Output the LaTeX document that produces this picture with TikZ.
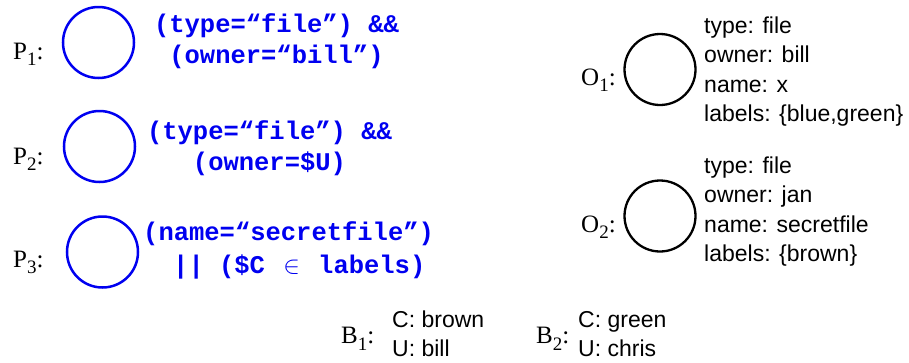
\documentclass[tikz,border=0pt]{standalone}
\usepackage{fontspec}
\setmainfont{Liberation Serif}
\newfontfamily\attrfont{Liberation Sans}
\newfontfamily\codefont{Liberation Mono}
\newcommand{\lblsub}[1]{\raisebox{-6.5pt}{\fontsize{19}{19}\selectfont #1}}
\begin{document}
\begin{tikzpicture}[x=1pt,y=-1pt,
  pcirc/.style={circle, draw={rgb,255:red,0;green,0;blue,240}, line width=2.5pt, minimum size=71pt, inner sep=0pt},
  ocirc/.style={circle, draw=black, line width=2.3pt, minimum size=71pt, inner sep=0pt},
  lbl/.style={font=\fontsize{25}{29}\selectfont, anchor=base west, inner sep=0pt},
  code/.style={text={rgb,255:red,0;green,0;blue,240}, font=\codefont\bfseries\fontsize{25.5}{31}\selectfont, inner sep=0pt},
  attr/.style={font=\attrfont\fontsize{23}{29.4}\selectfont, align=left, inner sep=0pt, anchor=west}]
\useasboundingbox (0,0) rectangle (909,362);

% patterns
\node[pcirc] (p1) at (98.5,42.5) {};
\node[pcirc] (p2) at (99.5,146.5) {};
\node[pcirc] (p3) at (102.5,252) {};
\node[lbl] (p1l) at (13,59) {P\lblsub{1}:};
\node[lbl] (p2l) at (13,164) {P\lblsub{2}:};
\node[lbl] (p3l) at (13,267) {P\lblsub{3}:};

\node[code, align=center] (p1t) at (276.5,41.5) {(type=“file”) \&\&\\(owner=“bill”)};
\node[code, align=center] (p2t) at (269.5,148.5) {(type=“file”) \&\&\\(owner=\$U)};
\node[code, align=left, anchor=west, font=\codefont\bfseries\fontsize{25.5}{33}\selectfont] (p3t) at (143,250.5)
  {(name=“secretfile”)\\\hspace*{30pt}|| (\$C \hspace{3pt}{\mdseries$\in$}\hspace{3pt} labels)};

% objects
\node[ocirc] (o1) at (660,69.5) {};
\node[ocirc] (o2) at (660,216) {};
\node[lbl] (o1l) at (581,85) {O\lblsub{1}:};
\node[lbl] (o2l) at (581,232) {O\lblsub{2}:};
\node[attr] (o1t) at (704,71.5) {type: file\\owner: bill\\name: x\\labels: \{blue,green\}};
\node[attr] (o2t) at (704,211.5) {type: file\\owner: jan\\name: secretfile\\labels: \{brown\}};

% bindings
\node[lbl] (b1l) at (341,343.5) {B\lblsub{1}:};
\node[lbl] (b2l) at (536,343.5) {B\lblsub{2}:};
\node[attr] (b1t) at (392,334) {C: brown\\U: bill};
\node[attr] (b2t) at (578,334) {C: green\\U: chris};
\end{tikzpicture}
\end{document}
